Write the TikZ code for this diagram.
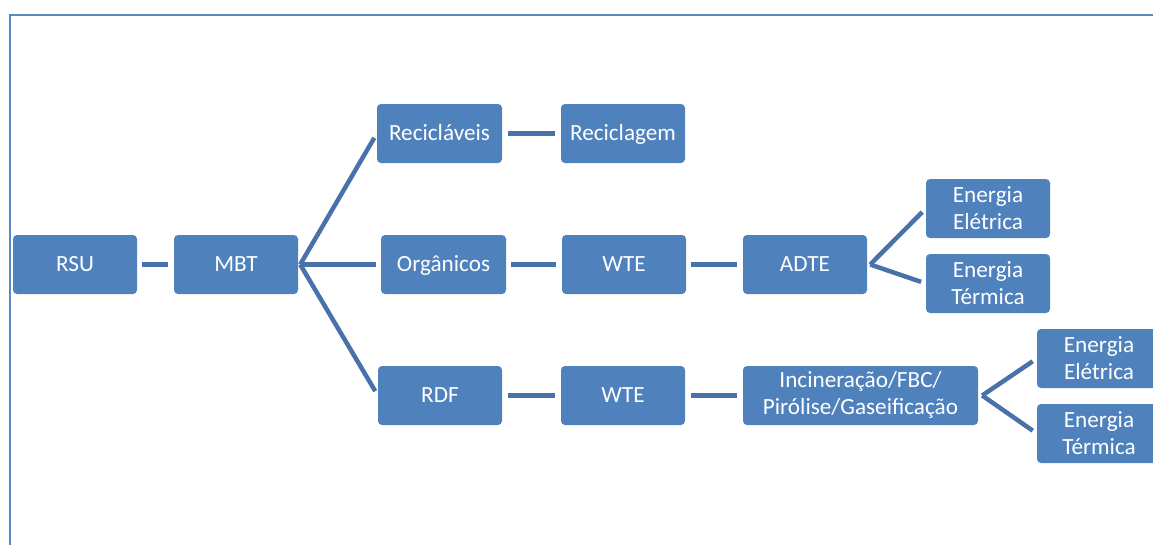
\documentclass[tikz,border=0pt]{standalone}
\usepackage{fontspec}
\setmainfont{Carlito}
\definecolor{boxblue}{HTML}{4F81BD}
\definecolor{lineblue}{HTML}{4A72AA}
\definecolor{frameblue}{HTML}{5B89C6}
\newcommand{\topfix}{\rule{0pt}{22.9pt}}
\newcommand{\botfix}{\rule[-8pt]{0pt}{8pt}}
\newcommand{\toptwo}{\rule{0pt}{49pt}}
\newcommand{\topinc}{\rule{0pt}{45pt}}
\begin{document}
\begin{tikzpicture}[x=1pt,y=-1pt,
  box/.style={draw=none,fill=boxblue,rounded corners=4pt,minimum width=124pt,minimum height=59pt,inner sep=0pt,text=white,align=center,font=\fontsize{23.2}{26.7}\selectfont,execute at begin node=\topfix,execute at end node=\botfix},
  twoline/.style={execute at begin node=\toptwo},
  incline/.style={execute at begin node=\topinc},
  conn/.style={draw=lineblue,line width=4.5pt}]
\useasboundingbox (0,0) rectangle (1153,544);
\draw[frameblue,line width=2pt] (9.5,600) -- (9.5,14.5) -- (1200,14.5);
\node[box] (rsu) at (75,264.5) {RSU};
\node[box] (mbt) at (236,264.5) {MBT};
\node[box,minimum width=125pt] (recv) at (439.5,133.5) {Recicláveis};
\node[box] (recg) at (623,133.5) {Reciclagem};
\node[box,minimum width=125pt] (org) at (443.5,264.5) {Orgânicos};
\node[box] (wteA) at (624,264.5) {WTE};
\node[box] (adte) at (805,264.5) {ADTE};
\node[box,twoline] (eeA) at (988,208.5) {Energia\\Elétrica};
\node[box,twoline] (etA) at (988,283.5) {Energia\\Térmica};
\node[box] (rdf) at (440,395.5) {RDF};
\node[box] (wteB) at (623,395.5) {WTE};
\node[box,incline,minimum width=235pt] (inc) at (860.5,395.5) {Incineração/FBC/\\Pirólise/Gaseificação};
\node[box,twoline] (eeB) at (1099,358.5) {Energia\\Elétrica};
\node[box,twoline] (etB) at (1099,433.5) {Energia\\Térmica};
\coordinate (mbtApex) at ([xshift=2pt]mbt.east);
\coordinate (adteApex) at ([xshift=3pt]adte.east);
\coordinate (incApex) at ([xshift=4pt]inc.east);
\draw[conn,shorten <=5pt,shorten >=6pt] (rsu) -- (mbt);
\draw[conn,shorten >=5pt] (mbtApex) -- (recv.west);
\draw[conn,shorten >=5pt] (mbtApex) -- (org.west);
\draw[conn,shorten >=5pt] (mbtApex) -- (rdf.west);
\draw[conn,shorten <=6pt,shorten >=6pt] (recv) -- (recg);
\draw[conn,shorten <=5pt,shorten >=6pt] (org) -- (wteA);
\draw[conn,shorten <=5pt,shorten >=6pt] (wteA) -- (adte);
\draw[conn,shorten >=5pt] (adteApex) -- (eeA.west);
\draw[conn,shorten >=5pt] (adteApex) -- (etA.west);
\draw[conn,shorten <=6pt,shorten >=6pt] (rdf) -- (wteB);
\draw[conn,shorten <=6pt,shorten >=6pt] (wteB) -- (inc);
\draw[conn,shorten >=5pt] (incApex) -- (eeB.west);
\draw[conn,shorten >=5pt] (incApex) -- (etB.west);
\end{tikzpicture}
\end{document}
